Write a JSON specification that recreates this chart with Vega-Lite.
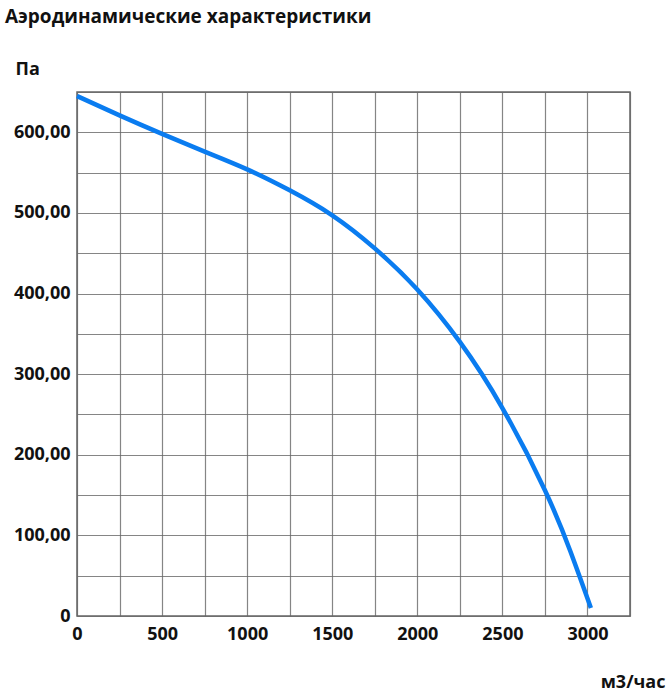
{
  "$schema": "https://vega.github.io/schema/vega-lite/v6.json",
  "width": 553,
  "height": 524,
  "autosize": {"type": "none"},
  "padding": {"left": 77, "top": 92, "right": 40, "bottom": 84},
  "background": "white",
  "title": {
    "text": "Аэродинамические характеристики",
    "anchor": "start",
    "frame": "group",
    "dx": -72,
    "offset": 33,
    "font": "Open Sans",
    "fontSize": 19,
    "fontWeight": "bold",
    "color": "#111"
  },
  "config": {
    "view": {"stroke": "#666", "strokeWidth": 1.5},
    "axis": {
      "gridColor": "#666",
      "gridWidth": 1.2,
      "gridOpacity": 0.8,
      "domain": false,
      "ticks": false,
      "labelFont": "Open Sans",
      "labelFontWeight": "bold",
      "labelFontSize": 18,
      "labelColor": "#111",
      "titleFont": "Open Sans",
      "titleFontWeight": "bold",
      "titleFontSize": 18,
      "titleColor": "#111"
    }
  },
  "data": {
    "values": [
      {"flow": 0, "pressure": 645},
      {"flow": 250, "pressure": 621},
      {"flow": 500, "pressure": 598},
      {"flow": 750, "pressure": 576},
      {"flow": 1000, "pressure": 554},
      {"flow": 1250, "pressure": 528},
      {"flow": 1500, "pressure": 497},
      {"flow": 1750, "pressure": 456},
      {"flow": 2000, "pressure": 405},
      {"flow": 2250, "pressure": 340},
      {"flow": 2500, "pressure": 258},
      {"flow": 2750, "pressure": 156},
      {"flow": 2900, "pressure": 80},
      {"flow": 3020, "pressure": 10}
    ]
  },
  "mark": {"type": "line", "color": "#0a7cf0", "strokeWidth": 4.5, "interpolate": "natural"},
  "encoding": {
    "x": {
      "field": "flow",
      "type": "quantitative",
      "scale": {"domain": [0, 3250], "nice": false, "zero": true},
      "axis": {
        "values": [0, 250, 500, 750, 1000, 1250, 1500, 1750, 2000, 2250, 2500, 2750, 3000, 3250],
        "labelExpr": "datum.value % 500 == 0 && datum.value <= 3000 ? datum.label : ''",
        "format": "d",
        "labelPadding": 9,
        "labelFlush": false,
        "title": "м3/час",
        "titleAnchor": "end",
        "titleAlign": "right",
        "titleX": 588,
        "titleY": 57
      }
    },
    "y": {
      "field": "pressure",
      "type": "quantitative",
      "scale": {"domain": [0, 650], "nice": false},
      "axis": {
        "values": [0, 50, 100, 150, 200, 250, 300, 350, 400, 450, 500, 550, 600, 650],
        "labelExpr": "datum.value == 0 ? '0' : (datum.value % 100 == 0 && datum.value < 650 ? toString(datum.value) + ',00' : '')",
        "labelPadding": 7,
        "labelFlush": false,
        "title": "Па",
        "titleAngle": 0,
        "titleAlign": "left",
        "titleX": -62,
        "titleY": -14
      }
    }
  }
}
